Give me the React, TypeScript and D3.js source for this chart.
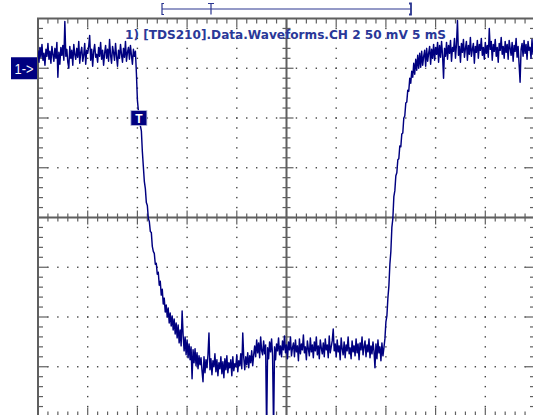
import React, { useEffect, useRef } from "react";
import * as d3 from "d3";

// Scope settings: 5 ms/div x 10 div, 50 mV/div x 8 div
const timeDomain = [0, 50]; // ms
const voltDomain = [-350, 50]; // mV relative to the channel ground marker
const majorTimeStep = 5;
const minorTimeStep = 1;
const majorVoltStep = 50;
const minorVoltStep = 10;
const centerTime = 25;
const centerVolt = -150;
const groundLevel = 0;
const triggerTime = 10.15;
const triggerLevel = -50;
const titleText = "1) [TDS210].Data.Waveforms.CH 2 50 mV 5 mS";

// sample interval of the record (ms)
const sampleMs = 0.1;

// CH2 trace in mV, one value per sample, split in stretches
const highLeft = [
  18, 6, 21, 11, 24, 8, 15, 3, 19, 12,
  25, 9, 17, 5, 22, 14, 7, 20, 10, 26,
  -9, 16, 4, 21, 13, 23, 8, 47, 12, 19,
  6, 0, 22, 10, 18, 3, 24, 14, 9, 20,
  11, 27, 5, 16, 21, 7, 13, 25, 4, 18,
  15, 22, 33, 8, 19, 2, 17, 24, 11, 14,
  6, 21, 12, 26, 9, 18, 3, 15, 23, 10,
  19, 7, 29, 13, 5, 22, 16, 8, 25, 12,
  2, 18, 10, 24, 14, 6, 20, 11, 27, 7,
  16, 21, 9, 23, 13, 4, 19, 12, 17,
];
const fallEdge = [
  -5, -32, -43, -49, -58, -63, -84, -99, -114, -121,
  -135, -138, -151, -154, -164, -165, -179, -184, -186, -197,
  -196, -207, -205, -218, -214, -228, -222, -237, -231, -245,
  -238, -250, -241, -256, -246, -259, -249, -263, -252, -267,
  -256, -271, -258, -276, -263, -279, -244, -268, -284, -270,
  -288, -273, -291, -277, -293, -280, -312, -283, -296, -282,
  -299, -286, -302, -289, -298, -291, -304, -315, -290, -306,
  -293, -301, -288, -266, -303, -292, -308, -294, -300, -287,
  -305, -293, -309, -296, -302, -290, -307, -295, -311, -292,
  -303, -289, -306, -296, -301, -293, -309, -290, -304, -297,
  -300, -288, -305, -294, -299, -287, -302, -266, -291, -303,
  -290, -298, -286, -301, -289, -296, -284, -299, -288,
];
const lowFloor = [
  -279, -290, -273, -286, -276, -291, -270, -284, -288, -274,
  -287, -278, -365, -281, -292, -275, -285, -272, -289, -365,
  -280, -293, -277, -284, -271, -288, -279, -290, -274, -283,
  -269, -286, -278, -292, -275, -283, -270, -289, -281, -276,
  -290, -273, -285, -279, -294, -272, -287, -277, -283, -268,
  -286, -280, -293, -274, -282, -289, -271, -285, -278, -291,
  -275, -284, -270, -288, -279, -292, -273, -281, -287, -276,
  -290, -272, -283, -278, -291, -269, -286, -280, -274, -262,
  -284, -277, -290, -273, -285, -279, -293, -271, -282, -288,
  -275, -291, -278, -284, -270, -287, -281, -292, -274, -285,
  -279, -289, -272, -286, -277, -293, -276, -283, -270, -288,
  -280, -274, -290, -278, -285, -272, -291, -279, -287, -275,
  -284, -301, -277, -292, -273, -286, -280, -294, -276, -289,
  -281,
];
const riseEdge = [
  -272, -255, -249, -231, -219, -197, -184, -160, -151, -129,
  -123, -108, -105, -92, -91, -78, -79, -66, -65, -50,
  -48, -35, -34, -22, -23, -10, -15, -3, -9, 5,
  -6, 9, -2, 13, 0, 15, 1, 17, 3, 12,
  18, 2, 20, 7, 15, 22, 4, 19, 10, 24,
  8, 21, 14, 26, 6, 23, 11, 27, 13, -10,
  20,
];
const highRight = [
  12, 26, 9, 23, 15, 28, 7, 21, 17, 30,
  10, 24, 48, 13, 22, 6, 25, 16, 29, 11,
  20, 27, 8, 23, 14, 31, 12, 19, 25, 5,
  22, 16, 28, 10, 24, 18, 30, 13, 21, 9,
  26, 15, 23, 11, 40, 19, 27, 8, 24, 17,
  29, 12, 21, 6, 25, 18, 31, 14, 22, 10,
  27, 16, 24, 9, 28, 20, 13, 26, 7, 23,
  17, 30, 11, 22, 4, -14, 19, 25, 12, 28,
  15, 24, 9, 27, 18, 21, 10, 29, 14, 23,
  19,
];
const segments = [highLeft, fallEdge, lowFloor, riseEdge, highRight];
const segmentStarts = [0, 9.9, 21.8, 34.9, 41.0];

// screen layout
const W = 533;
const H = 415;
const plot = { left: 38, top: 18.5, right: 535, bottom: 416.5 };
const recordBar = { left: 162, trigger: 211, right: 411, y: 9 };

const GRID = "#5f5f5f";
const NAVY = "#000080";

export default function App() {
  const ref = useRef<SVGSVGElement>(null);

  useEffect(() => {
    const svg = d3.select(ref.current);
    svg.selectAll("*").remove();

    const x = d3.scaleLinear().domain(timeDomain).range([plot.left, plot.right]);
    const y = d3.scaleLinear().domain(voltDomain).range([plot.bottom, plot.top]);

    const points: [number, number][] = [];
    segments.forEach((seg, s) => {
      seg.forEach((v, i) => {
        points.push([Math.round((segmentStarts[s] + i * sampleMs) * 100) / 100, v]);
      });
    });

    const minorTimes = d3.range(timeDomain[0], timeDomain[1] + 0.001, minorTimeStep);
    const minorVolts = d3.range(voltDomain[0], voltDomain[1] + 0.001, minorVoltStep);
    const majorTimes = d3.range(timeDomain[0] + majorTimeStep, timeDomain[1], majorTimeStep);
    const majorVolts = d3.range(voltDomain[0] + majorVoltStep, voltDomain[1], majorVoltStep);
    const isMajorT = (t: number) => Math.abs(t % majorTimeStep) < 0.001;
    const isMajorV = (v: number) => Math.abs(v % majorVoltStep) < 0.001;

    const grid = svg.append("g");

    // dotted graticule lines
    const dots: [number, number][] = [];
    majorTimes
      .filter(t => t !== centerTime)
      .forEach(t => minorVolts.slice(1, -1).forEach(v => dots.push([t, v])));
    majorVolts
      .filter(v => v !== centerVolt)
      .forEach(v => minorTimes.slice(1, -1).forEach(t => dots.push([t, v])));
    grid
      .selectAll("rect.dot")
      .data(dots)
      .join("rect")
      .attr("class", "dot")
      .attr("x", d => x(d[0]) - 0.7)
      .attr("y", d => y(d[1]) - 0.7)
      .attr("width", 1.4)
      .attr("height", 1.4)
      .attr("fill", "#444");

    // center axes
    grid
      .append("line")
      .attr("x1", plot.left)
      .attr("x2", plot.right)
      .attr("y1", y(centerVolt))
      .attr("y2", y(centerVolt))
      .attr("stroke", GRID)
      .attr("stroke-width", 2);
    grid
      .append("line")
      .attr("x1", x(centerTime))
      .attr("x2", x(centerTime))
      .attr("y1", plot.top)
      .attr("y2", plot.bottom)
      .attr("stroke", GRID)
      .attr("stroke-width", 2);

    // ticks on center axes
    grid
      .selectAll("line.ct")
      .data(minorTimes.slice(1, -1))
      .join("line")
      .attr("class", "ct")
      .attr("x1", d => x(d))
      .attr("x2", d => x(d))
      .attr("y1", d => y(centerVolt) - (isMajorT(d) ? 7 : 4))
      .attr("y2", d => y(centerVolt) + (isMajorT(d) ? 7 : 4))
      .attr("stroke", GRID)
      .attr("stroke-width", 1.2);
    grid
      .selectAll("line.cv")
      .data(minorVolts.slice(1, -1))
      .join("line")
      .attr("class", "cv")
      .attr("y1", d => y(d))
      .attr("y2", d => y(d))
      .attr("x1", d => x(centerTime) - (isMajorV(d) ? 7 : 4))
      .attr("x2", d => x(centerTime) + (isMajorV(d) ? 7 : 4))
      .attr("stroke", GRID)
      .attr("stroke-width", 1.2);

    // border ticks
    const bt = minorTimes.slice(1, -1);
    const bv = minorVolts.slice(1, -1);
    grid
      .selectAll("line.tt")
      .data(bt)
      .join("line")
      .attr("class", "tt")
      .attr("x1", d => x(d))
      .attr("x2", d => x(d))
      .attr("y1", plot.top)
      .attr("y2", d => plot.top + (isMajorT(d) ? 9 : 5))
      .attr("stroke", GRID)
      .attr("stroke-width", 1.2);
    grid
      .selectAll("line.bt")
      .data(bt)
      .join("line")
      .attr("class", "bt")
      .attr("x1", d => x(d))
      .attr("x2", d => x(d))
      .attr("y1", plot.bottom)
      .attr("y2", d => plot.bottom - (isMajorT(d) ? 9 : 5))
      .attr("stroke", GRID)
      .attr("stroke-width", 1.2);
    grid
      .selectAll("line.lt")
      .data(bv)
      .join("line")
      .attr("class", "lt")
      .attr("y1", d => y(d))
      .attr("y2", d => y(d))
      .attr("x1", plot.left)
      .attr("x2", d => plot.left + (isMajorV(d) ? 10 : 5))
      .attr("stroke", GRID)
      .attr("stroke-width", 1.2);
    grid
      .selectAll("line.rt")
      .data(bv)
      .join("line")
      .attr("class", "rt")
      .attr("y1", d => y(d))
      .attr("y2", d => y(d))
      .attr("x1", plot.right)
      .attr("x2", d => plot.right - (isMajorV(d) ? 10 : 5))
      .attr("stroke", GRID)
      .attr("stroke-width", 1.2);

    grid
      .append("rect")
      .attr("x", plot.left)
      .attr("y", plot.top)
      .attr("width", plot.right - plot.left)
      .attr("height", plot.bottom - plot.top)
      .attr("fill", "none")
      .attr("stroke", GRID)
      .attr("stroke-width", 2);

    // title
    svg
      .append("text")
      .attr("x", 125)
      .attr("y", 38.5)
      .attr("textLength", 321)
      .attr("lengthAdjust", "spacingAndGlyphs")
      .style("font-family", "'DejaVu Sans', sans-serif")
      .style("font-weight", "bold")
      .style("font-size", "11.5px")
      .attr("fill", "#2a3898")
      .text(titleText);

    // trace
    svg
      .append("clipPath")
      .attr("id", "screen")
      .append("rect")
      .attr("x", plot.left)
      .attr("y", plot.top)
      .attr("width", plot.right - plot.left)
      .attr("height", plot.bottom - plot.top);
    const line = d3
      .line<[number, number]>()
      .x(d => x(d[0]))
      .y(d => y(d[1]));
    svg
      .append("path")
      .attr("clip-path", "url(#screen)")
      .attr("d", line(points))
      .attr("fill", "none")
      .attr("stroke", NAVY)
      .attr("stroke-width", 1.45)
      .attr("stroke-linejoin", "round");

    // channel ground marker
    const gy = y(groundLevel);
    svg
      .append("rect")
      .attr("x", 11)
      .attr("y", gy - 11)
      .attr("width", 26)
      .attr("height", 22)
      .attr("fill", NAVY);
    svg
      .append("text")
      .attr("x", 14.5)
      .attr("y", gy + 5.5)
      .attr("textLength", 19)
      .attr("lengthAdjust", "spacingAndGlyphs")
      .style("font-family", "'Liberation Sans', Arial, sans-serif")
      .style("font-size", "15px")
      .attr("fill", "#fff")
      .text("1->");

    // trigger marker
    const tx = x(triggerTime);
    const ty = y(triggerLevel);
    svg
      .append("rect")
      .attr("x", tx - 8)
      .attr("y", ty - 7.5)
      .attr("width", 16)
      .attr("height", 15)
      .attr("fill", NAVY)
      .attr("stroke", "#b8bcd8")
      .attr("stroke-width", 0.8);
    svg
      .append("text")
      .attr("x", tx)
      .attr("y", ty + 4.5)
      .attr("text-anchor", "middle")
      .style("font-family", "'Liberation Sans', Arial, sans-serif")
      .style("font-weight", "bold")
      .style("font-size", "12px")
      .attr("fill", "#fff")
      .text("T");

    // record position bar
    const bar = svg.append("g").attr("stroke", "#2a3590").attr("fill", "none");
    bar
      .append("line")
      .attr("x1", recordBar.left)
      .attr("x2", recordBar.right)
      .attr("y1", recordBar.y)
      .attr("y2", recordBar.y)
      .attr("stroke-width", 1.2);
    bar
      .append("path")
      .attr("d", `M${recordBar.left + 2},3.5 H${recordBar.left} V14.5 H${recordBar.left + 2}`)
      .attr("stroke-width", 1.2);
    bar
      .append("path")
      .attr("d", `M${recordBar.right - 2},3.5 H${recordBar.right} V14.5 H${recordBar.right - 2}`)
      .attr("stroke-width", 1.8);
    bar
      .append("path")
      .attr("d", `M${recordBar.trigger - 3},3.5 H${recordBar.trigger + 3} M${recordBar.trigger},3.5 V14.5`)
      .attr("stroke-width", 1.2);
  }, []);

  return (
    <svg
      ref={ref}
      width={W}
      height={H}
      style={{ position: "absolute", left: 0, top: 0, background: "#fff" }}
    />
  );
}
